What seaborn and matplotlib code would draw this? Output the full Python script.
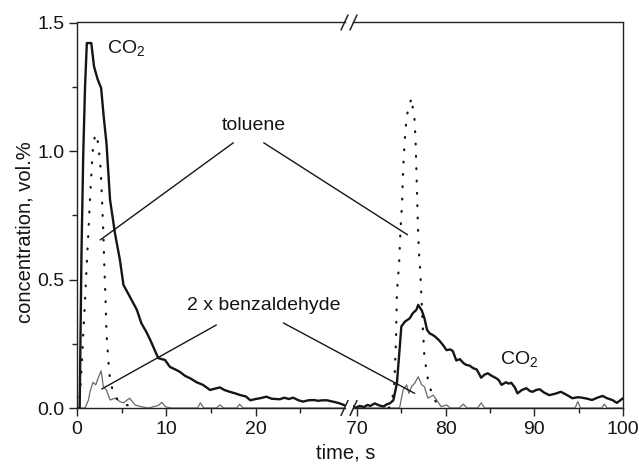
import matplotlib
matplotlib.use("Agg")
import matplotlib.pyplot as plt
from matplotlib.lines import Line2D
from matplotlib.patches import ConnectionPatch
from matplotlib.ticker import MultipleLocator, FixedLocator, FormatStrFormatter
import numpy as np
import pandas as pd
import seaborn as sns

# ---- data: first pulse (0-30 s) ----
co2_t1 = [0.0, 0.3, 0.5, 0.7, 0.9, 1.1, 1.6, 1.9, 2.3, 2.7, 3.0, 3.3, 3.7, 4.25, 4.8,
          5.2, 5.9, 6.7, 7.2, 7.7, 8.2, 8.7, 9.1, 9.5, 9.85, 10.4, 11.0, 11.5, 12.1,
          12.7, 13.4, 14.1, 14.9, 15.4, 16.0, 16.5, 17.1, 17.7, 18.3, 18.9, 19.4,
          20.0, 20.5, 21.2, 21.8, 22.3, 22.7, 23.2, 23.7, 24.2, 24.8, 25.3, 25.9,
          26.5, 27.0, 27.5, 28.0, 28.6, 29.0, 29.4, 30.0]
co2_c1 = [0.0, 0.0, 0.6, 0.99, 1.25, 1.42, 1.42, 1.33, 1.28, 1.245, 1.13, 1.03, 0.81,
          0.68, 0.577, 0.479, 0.434, 0.382, 0.33, 0.30, 0.265, 0.225, 0.194, 0.19,
          0.187, 0.16, 0.15, 0.141, 0.125, 0.115, 0.10, 0.09, 0.07, 0.075, 0.08, 0.07,
          0.063, 0.057, 0.05, 0.045, 0.03, 0.035, 0.038, 0.044, 0.036, 0.035, 0.034,
          0.04, 0.035, 0.04, 0.03, 0.025, 0.03, 0.031, 0.028, 0.03, 0.03, 0.025,
          0.022, 0.018, 0.01]

tol_t1 = [0.0, 0.15, 0.34, 0.52, 0.7, 0.9, 1.08, 1.27, 1.45, 1.65, 1.8, 2.05, 2.2, 2.4,
          2.65, 2.8, 2.95, 3.06, 3.2, 3.3, 3.5, 3.7, 4.07, 4.6, 5.2, 6.0]
tol_c1 = [0.0, 0.0, 0.057, 0.16, 0.29, 0.42, 0.55, 0.68, 0.81, 0.94, 1.02, 1.065, 1.063,
          1.02, 0.93, 0.81, 0.68, 0.55, 0.42, 0.29, 0.187, 0.11, 0.057, 0.03, 0.018, 0.005]

bzl_t1 = [0.0, 0.9, 1.27, 1.5, 1.8, 2.1, 2.4, 2.7, 2.95, 3.3, 3.7, 4.25, 4.8, 5.2, 5.6,
          5.9, 6.5, 7.2, 8.0, 9.1, 9.5, 9.9, 10.5, 13.5, 13.8, 14.2, 15.6, 16.0, 16.4,
          17.9, 18.2, 18.6, 30.0]
bzl_c1 = [0.0, 0.0, 0.03, 0.07, 0.10, 0.09, 0.12, 0.145, 0.083, 0.07, 0.031, 0.038,
          0.025, 0.02, 0.031, 0.038, 0.012, 0.005, 0.0, 0.01, 0.022, 0.005, 0.0, 0.0,
          0.02, 0.0, 0.0, 0.012, 0.0, 0.0, 0.015, 0.0, 0.0]

# ---- data: second pulse (70-100 s) ----
co2_t2 = [69.55, 69.8, 70.3, 70.8, 71.2, 71.5, 72.0, 72.5, 73.0, 73.4, 73.7, 74.1, 74.5,
          74.8, 75.0, 75.4, 75.95, 76.3, 76.7, 76.9, 77.1, 77.3, 77.6, 77.9, 78.2, 78.5,
          78.8, 79.3, 79.7, 80.1, 80.5, 80.8, 81.2, 81.6, 82.0, 82.3, 82.7, 83.1, 83.5,
          84.0, 84.4, 84.75, 85.2, 85.7, 86.0, 86.3, 86.8, 87.1, 87.4, 87.8, 88.1, 88.6,
          89.1, 89.5, 89.8, 90.2, 90.6, 91.1, 91.7, 92.3, 93.0, 93.6, 94.3, 94.9, 95.4,
          96.0, 96.5, 97.1, 97.7, 98.2, 98.8, 99.3, 99.7, 100.0]
co2_c2 = [0.008, 0.0, 0.008, 0.004, 0.012, 0.008, 0.018, 0.01, 0.006, 0.015, 0.018, 0.03,
          0.096, 0.226, 0.317, 0.336, 0.349, 0.369, 0.382, 0.401, 0.39, 0.38, 0.35, 0.304,
          0.29, 0.285, 0.278, 0.262, 0.245, 0.225, 0.228, 0.222, 0.185, 0.19, 0.175,
          0.168, 0.165, 0.155, 0.15, 0.118, 0.13, 0.135, 0.125, 0.116, 0.108, 0.09, 0.10,
          0.095, 0.098, 0.08, 0.057, 0.07, 0.077, 0.066, 0.063, 0.07, 0.073, 0.06, 0.05,
          0.055, 0.063, 0.052, 0.038, 0.042, 0.04, 0.036, 0.031, 0.04, 0.047, 0.038,
          0.031, 0.02, 0.03, 0.038]

tol_t2 = [73.6, 73.9, 74.2, 74.4, 74.5, 74.75, 74.9, 75.1, 75.2, 75.4, 75.6, 75.9, 76.15,
          76.3, 76.5, 76.6, 76.7, 76.8, 76.9, 77.0, 77.15, 77.4, 77.6, 78.0, 78.4, 78.8,
          79.3]
tol_c2 = [0.0, 0.018, 0.083, 0.265, 0.45, 0.564, 0.687, 0.81, 0.927, 1.05, 1.135, 1.176,
          1.206, 1.167, 1.12, 1.044, 0.927, 0.797, 0.68, 0.6, 0.525, 0.33, 0.2, 0.11,
          0.06, 0.03, 0.0]

bzl_t2 = [69.55, 74.8, 75.2, 75.6, 75.85, 76.15, 76.5, 76.9, 77.3, 77.6, 78.0, 78.6, 79.0,
          79.5, 80.1, 80.5, 81.5, 82.0, 82.4, 83.6, 84.0, 84.4, 94.6, 94.9, 95.2, 97.6,
          97.9, 98.2, 100.0]
bzl_c2 = [0.0, 0.0, 0.07, 0.09, 0.057, 0.083, 0.096, 0.122, 0.09, 0.083, 0.038, 0.05,
          0.03, 0.005, 0.012, 0.0, 0.0, 0.015, 0.0, 0.0, 0.02, 0.0, 0.0, 0.025, 0.0, 0.0,
          0.015, 0.0, 0.0]

sns.set_theme(style="ticks")
plt.rcParams["font.family"] = ["Liberation Sans", "DejaVu Sans"]
plt.rcParams["mathtext.fontset"] = "custom"
plt.rcParams["mathtext.rm"] = "Liberation Sans"
plt.rcParams["mathtext.it"] = "Liberation Sans"

W, H = 639, 469
fig = plt.figure(figsize=(W / 100, H / 100), dpi=100)


def fx(px):
    return px / W


def fy(py):
    return 1 - py / H


ax_bot, ax_top = 408, 22.5
ax1 = fig.add_axes([fx(77), fy(ax_bot), fx(345 - 77), (ax_bot - ax_top) / H])
ax2 = fig.add_axes([fx(353), fy(ax_bot), fx(623 - 353), (ax_bot - ax_top) / H])

ink = "#151515"
dotted = (0, (0.35, 5.2))
fs = 14

for ax, (ct, cc), (tt, tc), (bt, bc) in [
    (ax1, (co2_t1, co2_c1), (tol_t1, tol_c1), (bzl_t1, bzl_c1)),
    (ax2, (co2_t2, co2_c2), (tol_t2, tol_c2), (bzl_t2, bzl_c2)),
]:
    sns.lineplot(x=bt, y=bc, ax=ax, color="#6a6a6a", lw=0.9, estimator=None, sort=False)
    sns.lineplot(x=tt, y=tc, ax=ax, color=ink, lw=1.6, estimator=None, sort=False,
                 linestyle=dotted, dash_capstyle="round")
    sns.lineplot(x=ct, y=cc, ax=ax, color=ink, lw=1.7, estimator=None, sort=False)

ax1.set_xlim(0, 30)
ax2.set_xlim(69.55, 100)
for ax in (ax1, ax2):
    ax.set_ylim(0, 1.5)
    ax.set_xlabel("")
    ax.set_ylabel("")
    for s in ax.spines.values():
        s.set_color("#222222")
        s.set_linewidth(1.0)
    ax.tick_params(axis="both", which="major", direction="out", length=6, width=1.0,
                   color="#222222", labelsize=fs, labelcolor=ink, pad=3)
    ax.tick_params(axis="both", which="minor", direction="out", length=3.5, width=1.0,
                   color="#222222")

ax1.spines["right"].set_visible(False)
ax2.spines["left"].set_visible(False)
ax2.tick_params(axis="y", which="both", left=False, labelleft=False)

ax1.xaxis.set_major_locator(FixedLocator([0, 10, 20]))
ax1.xaxis.set_minor_locator(FixedLocator([5, 15, 25]))
ax2.xaxis.set_major_locator(FixedLocator([70, 80, 90, 100]))
ax2.xaxis.set_minor_locator(FixedLocator([75, 85, 95]))
ax1.yaxis.set_major_locator(MultipleLocator(0.5))
ax1.yaxis.set_minor_locator(MultipleLocator(0.25))
ax1.yaxis.set_major_formatter(FormatStrFormatter("%.1f"))

# axis break marks
for y0 in (ax_top, ax_bot):
    for x0 in (344.5, 353.5):
        fig.add_artist(Line2D([fx(x0 - 3.5), fx(x0 + 3.5)], [fy(y0 + 7.5), fy(y0 - 7.5)],
                              color="#222222", lw=1.1, transform=fig.transFigure))

# labels
fig.text(fx(25), fy(232), "concentration, vol.%", rotation=90, ha="center", va="center",
         fontsize=14.5, color=ink)
fig.text(fx(346), fy(453), "time, s", ha="center", va="center", fontsize=14.5, color=ink)

co2_label = r"CO$_\mathregular{2}$"
ax1.text(3.4, 1.40, co2_label, fontsize=fs, color=ink, ha="left", va="center")
ax2.text(86.1, 0.19, co2_label, fontsize=fs, color=ink, ha="left", va="center")
ax1.text(19.8, 1.10, "toluene", fontsize=fs, color=ink, ha="center", va="center")
ax1.text(20.9, 0.40, "2 x benzaldehyde", fontsize=fs, color=ink, ha="center", va="center")

# leader lines from the labels to the curves
leaders = [
    ((17.5, 1.032), ax1, (2.6, 0.654), ax1),
    ((20.9, 1.032), ax1, (75.7, 0.674), ax2),
    ((15.6, 0.323), ax1, (2.77, 0.074), ax1),
    ((23.1, 0.331), ax1, (76.5, 0.057), ax2),
]
for p0, a0, p1, a1 in leaders:
    con = ConnectionPatch(xyA=p0, coordsA=a0.transData, xyB=p1, coordsB=a1.transData,
                          color=ink, lw=1.0)
    fig.add_artist(con)

fig.savefig("out.png", dpi=100)
